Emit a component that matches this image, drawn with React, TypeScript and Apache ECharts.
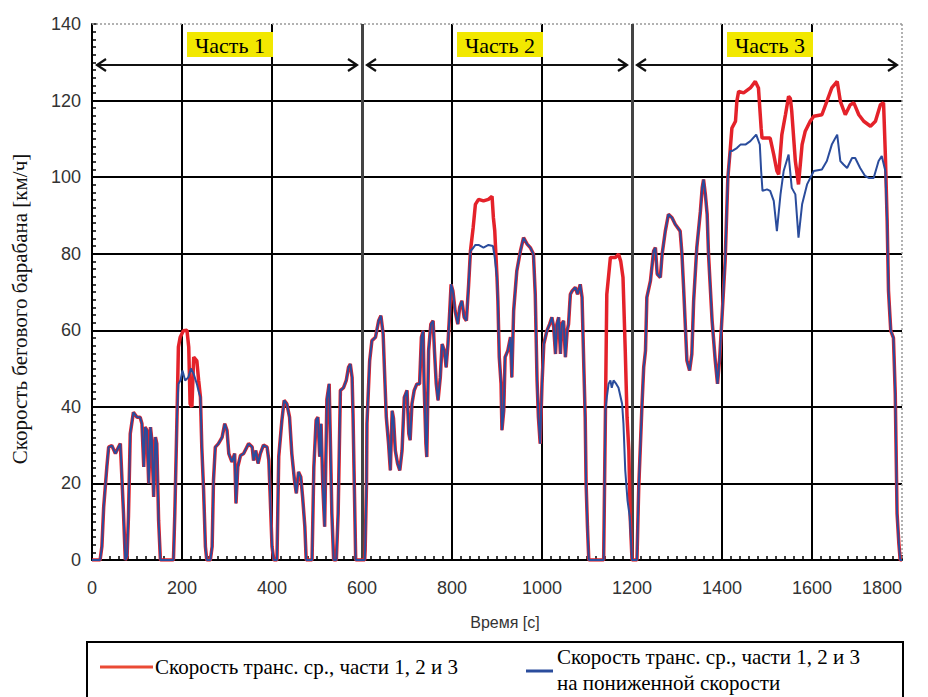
import React, { useEffect, useRef } from "react";
import * as echarts from "echarts";

type P = [number, number];

// time [s], speed [km/h]
const segStart: P[] = [
  [0, 0], [18, 0], [22, 3.5], [26, 13.9], [33, 24.3], [37, 29.5], [44, 29.9], [52, 27.8], [59, 29.5],
  [63, 30.4], [66, 22.6], [70, 12.2], [74, 0], [78, 1], [81, 11.3], [85, 33], [92, 38.6], [100, 37.3],
  [107, 37.3], [111, 35.6], [115, 24.3], [118, 34.7], [122, 33.9], [126, 20], [130, 34.7], [133, 31.3],
  [137, 16.5], [141, 32.1], [144, 30.4], [148, 10.4], [152, 0], [181, 0], [184, 12], [189, 38],
];
const redPeak1: P[] = [
  [192, 55.6], [196, 58.2], [203, 59.9], [211, 60], [215, 55.6], [218, 40.8], [222, 40], [226, 53],
  [233, 52], [237, 46.9],
];
const bluePeak1: P[] = [
  [192, 46], [197, 47], [201, 49.5], [207, 46.9], [214, 47.7], [220, 50], [226, 48.6], [233, 46], [237, 44],
];
const segMid1: P[] = [
  [241, 42.5], [244, 29.5], [248, 18.2], [252, 3.5], [255, 0], [263, 0], [267, 3.5], [270, 20.8],
  [274, 29.5], [281, 30.4], [289, 32], [295, 35.6], [300, 33.9], [304, 27.8], [311, 25.6], [317, 27.8],
  [320, 14.8], [324, 24.3], [330, 27.3], [337, 27.8], [348, 30.4], [356, 29.5], [359, 26], [364, 28.6],
  [369, 25.2], [374, 27.8], [381, 30], [389, 29.5], [393, 26], [396, 16.5], [400, 3.5], [404, 0],
  [411, 0], [415, 27], [422, 36.5], [427, 41.7], [433, 40.8], [439, 37.3], [444, 27.8], [450, 20.8],
  [454, 17.4], [459, 23], [464, 21.7], [468, 16.5], [473, 8.7], [476, 0], [489, 0], [493, 24.3],
  [498, 36.5], [502, 37.3], [506, 27], [509, 35.6], [513, 19], [517, 8.7], [522, 42], [527, 46],
  [530, 29.5], [533, 12.2], [537, 0], [543, 0], [547, 12.2], [552, 44.3], [559, 45], [565, 46.9],
  [570, 50.3], [574, 51.2], [578, 47.7], [580, 38.2], [583, 19], [586, 0], [606, 0], [607, 2.6],
  [610, 20], [611, 35.6], [617, 52], [622, 57.3], [630, 58.2], [637, 62.5], [642, 63.8], [647, 59],
  [650, 49.5], [654, 37.3], [659, 30.4], [663, 23.4], [667, 39], [670, 37], [674, 28.6], [679, 25.2],
  [684, 23.4], [689, 28.6], [694, 42.5], [700, 44.3], [704, 33], [707, 31.3], [711, 40.8], [716, 44.3],
  [722, 46], [728, 46], [732, 58.2], [736, 59.9], [738, 46], [742, 30.4], [744, 26.9], [748, 54.7],
  [753, 61.6], [758, 62.5], [761, 54.7], [765, 46], [769, 41.7], [774, 47.7], [778, 56.4], [783, 54.7],
  [787, 50.3], [791, 56.4], [795, 65], [798, 72], [802, 70.3], [807, 65], [813, 61.6], [817, 66],
  [822, 67.7], [827, 63.4], [832, 62.5], [837, 72], [841, 80.7],
];
const redHill2: P[] = [
  [847, 86.8], [852, 92.9], [859, 94.2], [870, 93.8], [881, 94.2], [889, 95], [892, 89.4], [895, 86],
];
const blueHill2: P[] = [
  [847, 81.5], [852, 82.3], [859, 82.3], [870, 81.6], [881, 82.3], [891, 82], [895, 79],
];
const segMid2: P[] = [
  [900, 73.8], [902, 67.7], [905, 53], [909, 46], [911, 33.9], [915, 39], [918, 53], [924, 54.7],
  [930, 58.2], [933, 47.7], [937, 65.1], [944, 75.5], [952, 80.7], [959, 84.2], [967, 82.5], [974, 81.6],
  [981, 79.9], [985, 69.4], [989, 46.9], [992, 37.3], [996, 30.4], [1000, 46], [1004, 56.4], [1011, 59.9],
  [1017, 61.6], [1022, 63.4], [1026, 60.8], [1030, 53.8], [1033, 61.6], [1037, 63.4], [1041, 53.8],
  [1044, 61.6], [1048, 62.5], [1052, 53], [1056, 59.9], [1059, 61.6], [1063, 69.4], [1067, 70.3],
  [1074, 71.2], [1079, 69.4], [1085, 72], [1089, 68.6], [1093, 50.3], [1096, 37.3], [1098, 20],
  [1101, 8.7], [1104, 0], [1137, 0], [1141, 39],
];
const redHump2: P[] = [
  [1144, 69.4], [1152, 79], [1163, 79], [1170, 79.9], [1175, 78], [1180, 73.8], [1185, 54.7], [1189, 37.3],
  [1193, 28.6], [1196, 11.3],
];
const blueHump2: P[] = [
  [1144, 42.5], [1148, 46], [1152, 46.9], [1155, 45], [1159, 46.9], [1165, 46], [1170, 45], [1178, 40.8],
  [1181, 35.6], [1185, 23.4], [1190, 15.6], [1195, 11.3],
];
const segMid3: P[] = [
  [1200, 0], [1211, 0], [1215, 19.1], [1222, 39.9], [1226, 50.3], [1230, 54.7], [1233, 68.6], [1241, 72.9],
  [1248, 80.7], [1252, 81.6], [1256, 74.7], [1263, 73.8], [1267, 79.9], [1274, 85.9], [1281, 90.3],
  [1289, 89.4], [1296, 87.7], [1307, 85.9], [1311, 79.9], [1315, 70.3], [1322, 52.1], [1328, 49.5],
  [1333, 53.8], [1337, 67.7], [1344, 81.6], [1352, 91.1], [1356, 97.2], [1359, 99.4], [1363, 95.5],
  [1367, 90.3], [1370, 79.9], [1378, 62.5], [1385, 52.1], [1390, 46], [1395, 53], [1400, 63.4],
  [1407, 78.1], [1413, 99.8], [1418, 106.8],
];
const redHigh3: P[] = [
  [1422, 112.8], [1430, 114.6], [1433, 119.8], [1437, 122.4], [1448, 122], [1463, 123.3], [1474, 125],
  [1481, 123.3], [1487, 112.8], [1489, 110.2], [1500, 110.2], [1507, 110.2], [1515, 105.9], [1522, 101.6],
  [1526, 100.7], [1533, 111.1], [1541, 116.3], [1548, 121.1], [1552, 120.5], [1555, 117.2], [1563, 104.2],
  [1570, 98.1], [1578, 108.5], [1585, 112], [1596, 114.6], [1604, 115.9], [1622, 116.3], [1633, 119.8],
  [1644, 123.3], [1656, 125], [1663, 119.8], [1674, 116.3], [1685, 118.9], [1693, 119.4], [1704, 116.3],
  [1715, 114.6], [1730, 113.3], [1741, 114.6], [1752, 118.9], [1759, 119.4], [1763, 105.9],
];
const blueHigh3: P[] = [
  [1422, 106.8], [1433, 107.6], [1441, 108.5], [1452, 108.5], [1463, 109.4], [1476, 111.1], [1484, 108.5],
  [1487, 101.6], [1490, 96.4], [1500, 96.8], [1507, 96.4], [1515, 93.8], [1522, 85.9], [1530, 95.5],
  [1537, 101.6], [1548, 105.9], [1555, 97.2], [1563, 95.5], [1570, 84.2], [1578, 92.9], [1589, 98.1],
  [1604, 101.6], [1622, 102], [1633, 104.2], [1644, 108.5], [1656, 111.1], [1663, 104.2], [1670, 103.3],
  [1678, 102.4], [1689, 105], [1696, 105], [1707, 102.4], [1718, 100.3], [1726, 99.8], [1737, 99.8],
  [1748, 104.2], [1755, 105.5], [1763, 101.6],
];
const segEnd: P[] = [
  [1767, 88.5], [1770, 70.3], [1775, 59.9], [1781, 58], [1785, 43.4], [1789, 12.2], [1793, 4.3],
  [1796, 0], [1800, 0],
];

const partLabels = ["Часть 1", "Часть 2", "Часть 3"];
const partBounds = [0, 600, 1200, 1800];
const arrowLevel = 129.2;
const redName = "Скорость транс. ср., части 1, 2 и 3";
const blueNameLines = ["Скорость транс. ср., части 1, 2 и 3", "на пониженной скорости"];
const xTitle = "Время [с]";
const yTitle = "Скорость бегового барабана [км/ч]";

const RED = "#e4222a";
const BLUE = "#2a4c9c";
const SERIF = "'Liberation Serif', 'Times New Roman', serif";
const SANS = "'Liberation Sans', Arial, sans-serif";

const redData: P[] = [
  ...segStart, ...redPeak1, ...segMid1, ...redHill2, ...segMid2, ...redHump2, ...segMid3, ...redHigh3, ...segEnd,
];
const blueData: P[] = [
  ...segStart, ...bluePeak1, ...segMid1, ...blueHill2, ...segMid2, ...blueHump2, ...segMid3, ...blueHigh3, ...segEnd,
];

export default function App() {
  const ref = useRef<HTMLDivElement>(null);
  useEffect(() => {
    document.body.style.margin = "0";
    if (!ref.current) return;
    const chart = echarts.init(ref.current, null, { renderer: "svg" });
    const axisLabel = { fontSize: 18, color: "#333", fontFamily: SANS, formatter: (v: number) => String(v) };
    chart.setOption({
      animation: false,
      backgroundColor: "#fff",
      grid: { left: 92, width: 810, top: 24, height: 536, show: false },
      xAxis: {
        type: "value",
        min: 0,
        max: 1800,
        interval: 200,
        axisLine: { show: true, lineStyle: { color: "#000", width: 2 } },
        axisTick: { show: true, inside: true, length: 5, lineStyle: { color: "#000", width: 1.5 } },
        minorTick: { show: true, splitNumber: 10, length: 4, lineStyle: { color: "#000", width: 1.5 } },
        axisLabel: { ...axisLabel, margin: 19, alignMaxLabel: "right" },
        splitLine: { show: true, showMinLine: false, showMaxLine: false, lineStyle: { color: "#000", width: 2 } },
      },
      yAxis: {
        type: "value",
        min: 0,
        max: 140,
        interval: 20,
        axisLine: { show: true, lineStyle: { color: "#000", width: 2 } },
        axisTick: { show: true, inside: true, length: 5, lineStyle: { color: "#000", width: 1.5 } },
        minorTick: { show: true, splitNumber: 10, length: 4, lineStyle: { color: "#000", width: 1.5 } },
        axisLabel: { ...axisLabel, margin: 11 },
        splitLine: { show: true, showMinLine: false, showMaxLine: false, lineStyle: { color: "#000", width: 2 } },
      },
      series: [
        {
          type: "line",
          name: redName,
          data: redData,
          showSymbol: false,
          symbol: "none",
          lineStyle: { color: RED, width: 3.5 },
          z: 3,
          markLine: {
            silent: true,
            symbol: "none",
            label: { show: false },
            lineStyle: { color: "#444", width: 3, type: "solid" },
            data: [{ xAxis: partBounds[1] }, { xAxis: partBounds[2] }],
            z: 2,
          },
        },
        {
          type: "line",
          name: blueNameLines.join(" "),
          data: blueData,
          showSymbol: false,
          symbol: "none",
          lineStyle: { color: BLUE, width: 2 },
          z: 4,
        },
      ],
    });

    const px = (t: number, v: number) => chart.convertToPixel({ gridIndex: 0 }, [t, v]) as number[];
    const g: any[] = [];
    const tl = px(0, 140);
    const tr = px(1800, 140);
    const br = px(1800, 0);
    g.push({ type: "line", shape: { x1: tl[0], y1: tl[1], x2: tr[0], y2: tr[1] }, style: { stroke: "#999", lineWidth: 1.5, lineDash: [2, 2] }, z: 1 });
    g.push({ type: "line", shape: { x1: tr[0], y1: tr[1], x2: br[0], y2: br[1] }, style: { stroke: "#999", lineWidth: 1.5, lineDash: [2, 2] }, z: 1 });

    for (let i = 0; i < partLabels.length; i++) {
      const a = px(partBounds[i], arrowLevel);
      const b = px(partBounds[i + 1], arrowLevel);
      const y = Math.round(a[1]);
      const l = a[0] + 5;
      const r = b[0] - 5;
      const st = { stroke: "#111", lineWidth: 2.2, fill: null };
      g.push({ type: "line", shape: { x1: l, y1: y, x2: r, y2: y }, style: st, z: 10 });
      g.push({ type: "polyline", shape: { points: [[l + 9, y - 6], [l, y], [l + 9, y + 6]] }, style: st, z: 10 });
      g.push({ type: "polyline", shape: { points: [[r - 9, y - 6], [r, y], [r - 9, y + 6]] }, style: st, z: 10 });
      const cx = (a[0] + b[0]) / 2 + 3;
      const top = px(0, 140)[1];
      g.push({ type: "rect", shape: { x: cx - 43, y: top + 8, width: 86, height: 25 }, style: { fill: "#f2e800" }, z: 10 });
      g.push({
        type: "text",
        x: cx,
        y: top + 21,
        style: { text: partLabels[i], fontFamily: SERIF, fontSize: 22, fill: "#000", align: "center", verticalAlign: "middle" },
        z: 11,
      });
    }

    g.push({
      type: "text",
      x: 20,
      y: 309,
      rotation: Math.PI / 2,
      style: { text: yTitle, fontFamily: SERIF, fontSize: 21, fill: "#111", align: "center", verticalAlign: "middle" },
    });
    g.push({
      type: "text",
      x: 505,
      y: 622,
      style: { text: xTitle, fontFamily: SANS, fontSize: 16, fill: "#333", align: "center", verticalAlign: "middle" },
    });

    // legend box
    g.push({ type: "rect", shape: { x: 87, y: 642, width: 816, height: 62 }, style: { fill: null, stroke: "#000", lineWidth: 2 } });
    g.push({ type: "line", shape: { x1: 100, y1: 667, x2: 153, y2: 667 }, style: { stroke: "#ea4a35", lineWidth: 3 } });
    g.push({
      type: "text",
      x: 155,
      y: 667,
      style: { text: redName, fontFamily: SERIF, fontSize: 21, fill: "#000", align: "left", verticalAlign: "middle" },
    });
    g.push({ type: "line", shape: { x1: 526, y1: 671, x2: 553, y2: 671 }, style: { stroke: BLUE, lineWidth: 3 } });
    g.push({
      type: "text",
      x: 557,
      y: 657,
      style: { text: blueNameLines[0], fontFamily: SERIF, fontSize: 21, fill: "#000", align: "left", verticalAlign: "middle" },
    });
    g.push({
      type: "text",
      x: 557,
      y: 683,
      style: { text: blueNameLines[1], fontFamily: SERIF, fontSize: 21, fill: "#000", align: "left", verticalAlign: "middle" },
    });

    chart.setOption({ graphic: g });
    return () => chart.dispose();
  }, []);
  return <div ref={ref} style={{ width: 928, height: 697 }} />;
}
